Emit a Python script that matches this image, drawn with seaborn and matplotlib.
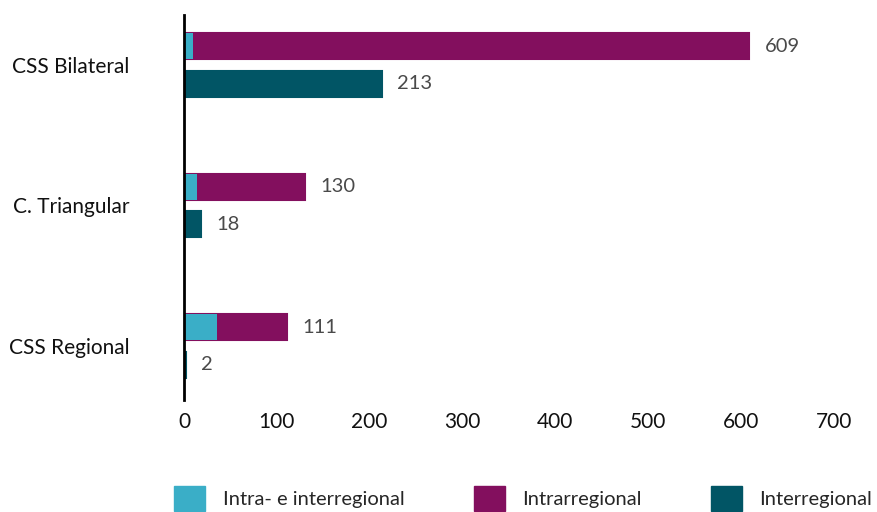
import pandas as pd
import matplotlib.pyplot as plt
import seaborn as sns
from matplotlib.patches import Patch

categorias = ["CSS Bilateral", "C. Triangular", "CSS Regional"]
intra_inter = [10, 14, 36]
intrarregional = [599, 116, 75]
interregional = [213, 18, 2]

cor_intra_inter = "#3aaec7"
cor_intrarregional = "#830f5e"
cor_interregional = "#015565"


def build_frame():
    totais = [a + b for a, b in zip(intra_inter, intrarregional)]
    rows = []
    for i, cat in enumerate(categorias):
        rows.append({"categoria": cat, "linha": "a", "valor": totais[i], "base": intra_inter[i]})
        rows.append({"categoria": cat, "linha": "b", "valor": interregional[i], "base": 0})
    return pd.DataFrame(rows)


def main():
    sns.set_style("white")
    plt.rcParams["font.family"] = ["Lato", "DejaVu Sans"]

    df = build_frame()

    fig = plt.figure(figsize=(8.78, 5.12), dpi=100)
    ax = fig.add_axes([0.2096, 0.219, 0.7400, 0.752])

    sns.barplot(data=df, x="valor", y="categoria", hue="linha", order=categorias,
                hue_order=["a", "b"], palette={"a": cor_intrarregional, "b": cor_interregional},
                orient="h", width=0.534, gap=0.30, dodge=True, saturation=1,
                linewidth=0, legend=False, ax=ax)
    # small bars still need to show beside the axis line
    for p in ax.patches:
        p.set_edgecolor(p.get_facecolor())
        p.set_linewidth(1.5)
    sns.barplot(data=df, x="base", y="categoria", hue="linha", order=categorias,
                hue_order=["a", "b"], palette={"a": cor_intra_inter, "b": cor_interregional},
                orient="h", width=0.534, gap=0.30, dodge=True, saturation=1,
                linewidth=0, legend=False, ax=ax)

    for cont in ax.containers[:2]:
        ax.bar_label(cont, fmt="%d", padding=11, fontsize=14.5, color="#4a4a4a")

    ax.set_xlim(0, 700)
    ax.set_ylim(2.384, -0.356)
    ax.set_xticks(range(0, 701, 100))
    ax.set_xlabel("")
    ax.set_ylabel("")
    ax.tick_params(axis="x", length=0, pad=9, labelsize=15, labelcolor="#111111")
    ax.tick_params(axis="y", length=0, pad=39, labelsize=15, labelcolor="#111111")

    for s in ["top", "right", "bottom"]:
        ax.spines[s].set_visible(False)
    ax.spines["left"].set_color("black")
    ax.spines["left"].set_linewidth(2)

    handles = [Patch(color=cor_intra_inter, label="Intra- e interregional"),
               Patch(color=cor_intrarregional, label="Intrarregional"),
               Patch(color=cor_interregional, label="Interregional")]
    fig.legend(handles=handles, loc="center", bbox_to_anchor=(0.596, 0.027), ncol=3,
               frameon=False, fontsize=14.5, handlelength=1.55, handleheight=1.55,
               handletextpad=0.85, columnspacing=3.45, borderpad=0)

    fig.savefig("out.png", dpi=100)


main()
